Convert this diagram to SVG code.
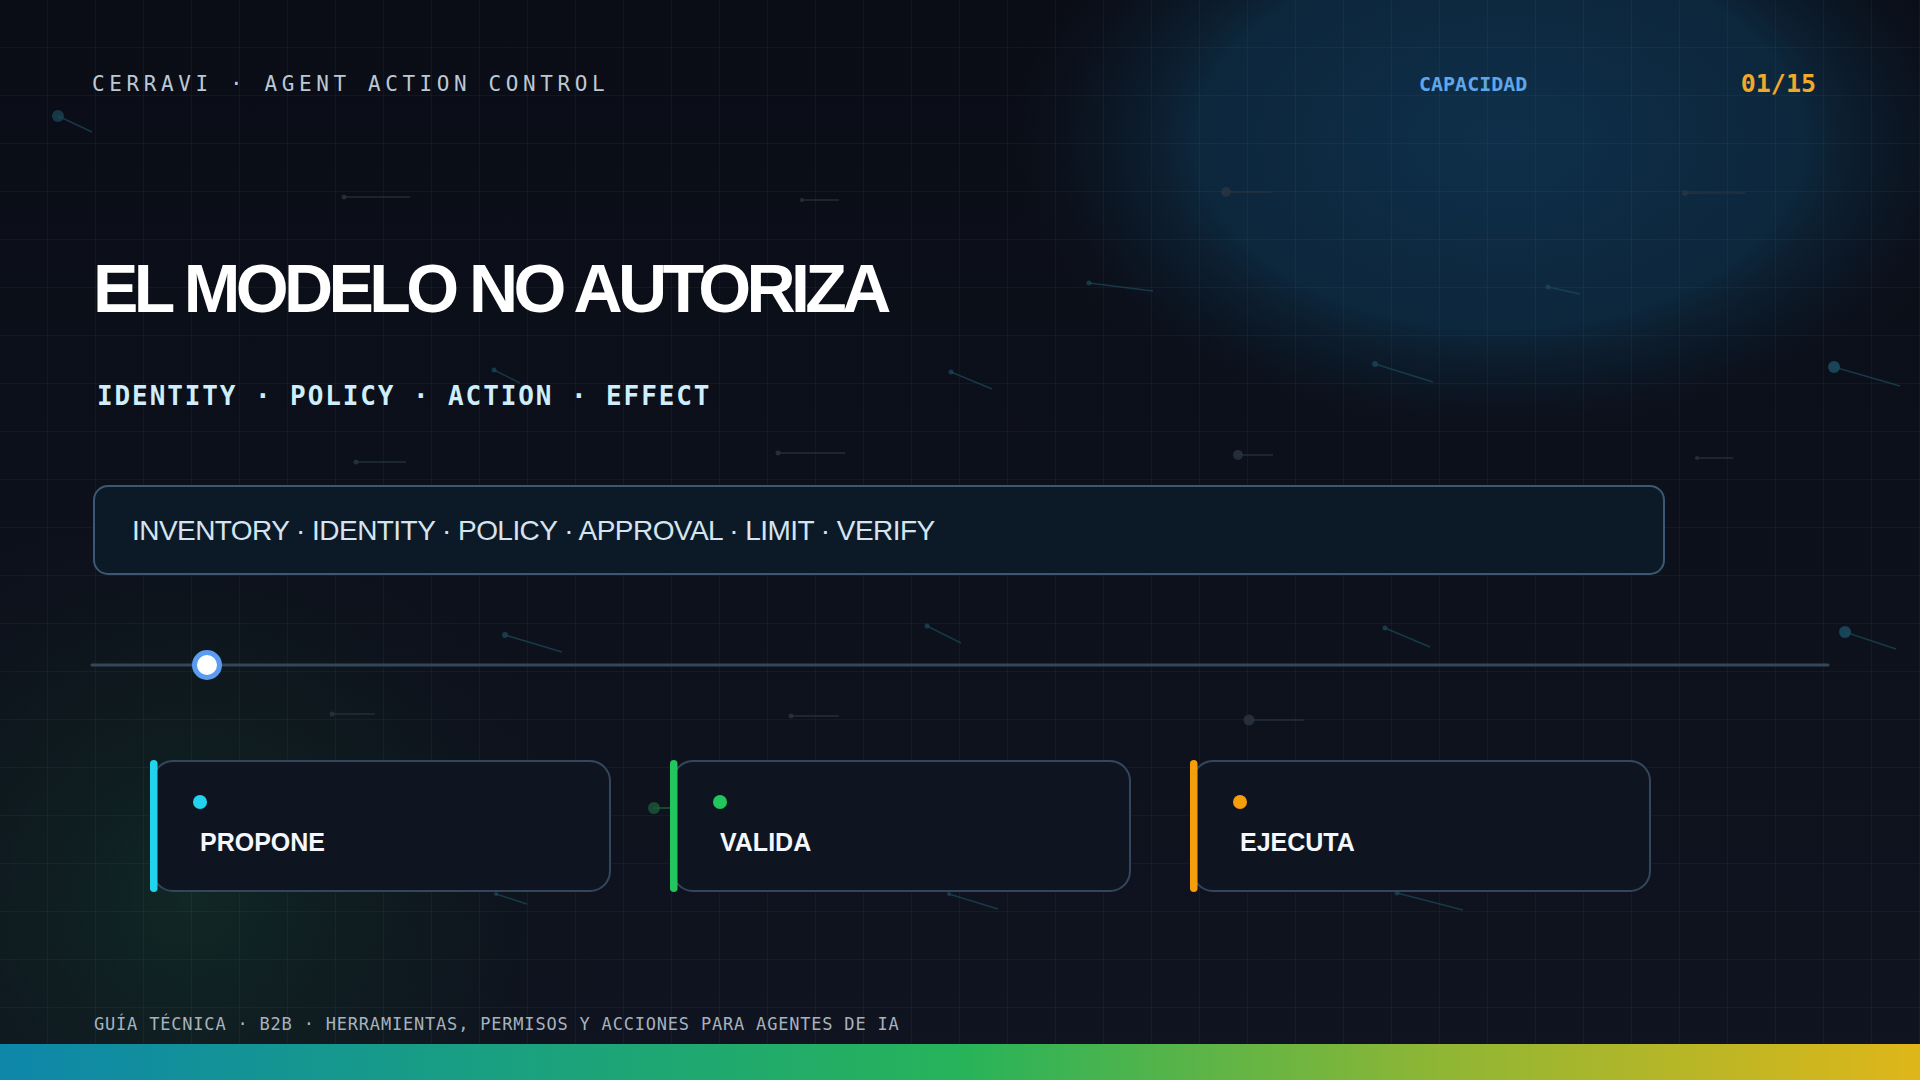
<svg xmlns="http://www.w3.org/2000/svg" width="1920" height="1080" viewBox="0 0 1920 1080">
  <defs>
    <linearGradient id="bg" x1="0" y1="0" x2="0" y2="1">
      <stop offset="0" stop-color="#0a0d16"/>
      <stop offset="1" stop-color="#0f1420"/>
    </linearGradient>
    <radialGradient id="glowBlue" cx="1500" cy="140" r="490" gradientUnits="userSpaceOnUse" gradientTransform="translate(1500 140) scale(1 0.62) translate(-1500 -140)">
      <stop offset="0" stop-color="#0e2f4a" stop-opacity="1"/>
      <stop offset="0.62" stop-color="#0d2a41" stop-opacity="0.88"/>
      <stop offset="0.86" stop-color="#0c1c2c" stop-opacity="0.4"/>
      <stop offset="1" stop-color="#0b1522" stop-opacity="0"/>
    </radialGradient>
    <radialGradient id="glowGreen" cx="190" cy="900" r="420" gradientUnits="userSpaceOnUse">
      <stop offset="0" stop-color="#12362a" stop-opacity="0.6"/>
      <stop offset="0.6" stop-color="#0f2420" stop-opacity="0.3"/>
      <stop offset="1" stop-color="#0b1018" stop-opacity="0"/>
    </radialGradient>
    <linearGradient id="bar" x1="0" y1="0" x2="1" y2="0">
      <stop offset="0" stop-color="#0e87aa"/>
      <stop offset="0.25" stop-color="#199f82"/>
      <stop offset="0.5" stop-color="#27b35a"/>
      <stop offset="0.75" stop-color="#8fb634"/>
      <stop offset="1" stop-color="#dfb61a"/>
    </linearGradient>
    <pattern id="grid" width="48" height="48" patternUnits="userSpaceOnUse">
      <path d="M48 0 V48 M0 48 H48" fill="none" stroke="#7fb0e0" stroke-opacity="0.11" stroke-width="1"/>
    </pattern>
  </defs>
  <style>
    .mono { font-family: "DejaVu Sans Mono", "Liberation Mono", monospace; }
    .sans { font-family: "Liberation Sans", Arial, sans-serif; }
    .card { fill: #0e1521; stroke: #34465c; stroke-width: 2; }
    .cardTitle { font-family: "Liberation Sans", Arial, sans-serif; font-weight: 700; font-size: 25px; fill: #f4f7fb; }
    .pdot { fill: #1c4a5c; opacity: 0.7; }
    .pline { stroke: #1c4a5c; stroke-width: 1.5; opacity: 0.7; }
    .gdot { fill: #2a3442; opacity: 0.8; }
    .gline { stroke: #2a3442; stroke-width: 1.5; opacity: 0.8; }
  </style>

  <!-- background -->
  <rect width="1920" height="1080" fill="url(#bg)"/>
  <rect width="1920" height="1080" fill="url(#glowBlue)"/>
  <rect width="1920" height="1080" fill="url(#glowGreen)"/>
  <rect width="1920" height="1080" fill="url(#grid)"/>

  <!-- particles -->
  <g id="particles">
    <circle class="pdot" cx="58" cy="116" r="6"/><line class="pline" x1="58" y1="116" x2="92" y2="132"/>
    <circle class="gdot" cx="344" cy="197" r="2.5"/><line class="gline" x1="344" y1="197" x2="410" y2="197"/>
    <circle class="gdot" cx="802" cy="200" r="2"/><line class="gline" x1="802" y1="200" x2="839" y2="200"/>
    <circle class="gdot" cx="1226" cy="192" r="5"/><line class="gline" x1="1226" y1="192" x2="1273" y2="192"/>
    <circle class="gdot" cx="1685" cy="193" r="3"/><line class="gline" x1="1685" y1="193" x2="1745" y2="193"/>
    <circle class="pdot" cx="1089" cy="283" r="2.5"/><line class="pline" x1="1089" y1="283" x2="1153" y2="291"/>
    <circle class="pdot" cx="1548" cy="287" r="2.5"/><line class="pline" x1="1548" y1="287" x2="1580" y2="294"/>
    <circle class="pdot" cx="1375" cy="364" r="3"/><line class="pline" x1="1375" y1="364" x2="1433" y2="382"/>
    <circle class="pdot" cx="1834" cy="367" r="6" style="fill:#1f5a70"/><line class="pline" x1="1834" y1="367" x2="1900" y2="386"/>
    <circle class="pdot" cx="951" cy="372" r="2.5"/><line class="pline" x1="951" y1="372" x2="992" y2="389"/>
    <circle class="pdot" cx="494" cy="370" r="2.5"/><line class="pline" x1="494" y1="370" x2="520" y2="383"/>
    <circle class="gdot" cx="356" cy="462" r="2.5"/><line class="gline" x1="356" y1="462" x2="406" y2="462"/>
    <circle class="gdot" cx="778" cy="453" r="2.5"/><line class="gline" x1="778" y1="453" x2="845" y2="453"/>
    <circle class="gdot" cx="1238" cy="455" r="5"/><line class="gline" x1="1238" y1="455" x2="1273" y2="455"/>
    <circle class="gdot" cx="1697" cy="458" r="2"/><line class="gline" x1="1697" y1="458" x2="1733" y2="458"/>
    <circle class="pdot" cx="505" cy="635" r="3"/><line class="pline" x1="505" y1="635" x2="562" y2="652"/>
    <circle class="pdot" cx="927" cy="626" r="2.5"/><line class="pline" x1="927" y1="626" x2="961" y2="643"/>
    <circle class="pdot" cx="1385" cy="628" r="2.5"/><line class="pline" x1="1385" y1="628" x2="1430" y2="647"/>
    <circle class="pdot" cx="1845" cy="632" r="6" style="fill:#1f5a70"/><line class="pline" x1="1845" y1="632" x2="1896" y2="649"/>
    <circle class="gdot" cx="332" cy="714" r="2.5"/><line class="gline" x1="332" y1="714" x2="375" y2="714"/>
    <circle class="gdot" cx="791" cy="716" r="2.5"/><line class="gline" x1="791" y1="716" x2="839" y2="716"/>
    <circle class="gdot" cx="1249" cy="720" r="5.5"/><line class="gline" x1="1249" y1="720" x2="1304" y2="720"/>
    <circle cx="654" cy="808" r="6" fill="#1d5a3a" opacity="0.8"/><line x1="654" y1="808" x2="671" y2="808" stroke="#1d5a3a" stroke-width="1.5"/>
    <circle class="pdot" cx="496" cy="894" r="2"/><line class="pline" x1="496" y1="894" x2="527" y2="904"/>
    <circle class="pdot" cx="949" cy="894" r="2"/><line class="pline" x1="949" y1="894" x2="998" y2="909"/>
    <circle class="pdot" cx="1397" cy="893" r="2.5"/><line class="pline" x1="1397" y1="893" x2="1463" y2="910"/>
  </g>

  <!-- header -->
  <g id="header">
    <text class="mono" x="92" y="91" font-size="21" letter-spacing="4.6" fill="#bcc8d4">CERRAVI · AGENT ACTION CONTROL</text>
    <text class="mono" x="1419" y="91" font-size="20" font-weight="700" fill="#5fa6ea">CAPACIDAD</text>
    <text class="mono" x="1816" y="92" font-size="25" font-weight="700" fill="#f0a92a" text-anchor="end">01/15</text>
  </g>

  <!-- title -->
  <g id="title">
    <text class="sans" x="93" y="312" font-size="68" font-weight="700" letter-spacing="-4.6" fill="#ffffff">EL MODELO NO AUTORIZA</text>
    <text class="mono" x="97" y="405" font-size="26" font-weight="700" letter-spacing="1.9" fill="#cdeefa">IDENTITY · POLICY · ACTION · EFFECT</text>
  </g>

  <!-- steps box -->
  <g id="steps">
    <rect x="94" y="486" width="1570" height="88" rx="14" fill="#0c1a28" stroke="#3d5874" stroke-width="2"/>
    <text class="sans" x="132" y="540" font-size="28" letter-spacing="-0.55" fill="#d6e4f0">INVENTORY · IDENTITY · POLICY · APPROVAL · LIMIT · VERIFY</text>
  </g>

  <!-- progress slider -->
  <g id="progress">
    <line x1="92" y1="665" x2="1828" y2="665" stroke="#34465a" stroke-width="3" stroke-linecap="round"/>
    <circle cx="207" cy="665" r="12.5" fill="#ffffff" stroke="#5b9cf0" stroke-width="5"/>
  </g>

  <!-- connectors (none drawn between cards) -->
  <g id="connectors"></g>

  <!-- cards -->
  <g id="card-propone">
    <rect class="card" x="153" y="761" width="457" height="130" rx="20"/>
    <rect x="150" y="760" width="7.5" height="132" rx="3.75" fill="#22d3ee"/>
    <circle cx="200" cy="802" r="7" fill="#22d3ee"/>
    <text class="cardTitle" x="200" y="851">PROPONE</text>
  </g>
  <g id="card-valida">
    <rect class="card" x="673" y="761" width="457" height="130" rx="20"/>
    <rect x="670" y="760" width="7.5" height="132" rx="3.75" fill="#22c55e"/>
    <circle cx="720" cy="802" r="7" fill="#22c55e"/>
    <text class="cardTitle" x="720" y="851">VALIDA</text>
  </g>
  <g id="card-ejecuta">
    <rect class="card" x="1193" y="761" width="457" height="130" rx="20"/>
    <rect x="1190" y="760" width="7.5" height="132" rx="3.75" fill="#f59e0b"/>
    <circle cx="1240" cy="802" r="7" fill="#f59e0b"/>
    <text class="cardTitle" x="1240" y="851">EJECUTA</text>
  </g>

  <!-- footer -->
  <g id="footer">
    <text class="mono" x="94" y="1030" font-size="17" letter-spacing="0.8" fill="#a7b2be">GUÍA TÉCNICA · B2B · HERRAMIENTAS, PERMISOS Y ACCIONES PARA AGENTES DE IA</text>
    <rect x="0" y="1044" width="1920" height="36" fill="url(#bar)"/>
  </g>
</svg>
